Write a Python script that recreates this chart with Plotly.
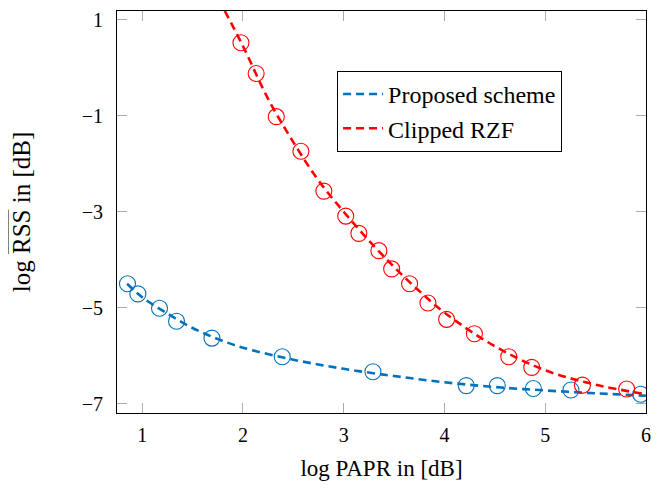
import plotly.graph_objects as go

# Marker data
prop_x = [0.854, 0.957, 1.172, 1.341, 1.692, 2.390, 3.290, 4.216, 4.524, 4.882, 5.255, 5.947]
prop_y = [-4.50, -4.71, -5.01, -5.28, -5.63, -6.02, -6.33, -6.62, -6.62, -6.68, -6.71, -6.80]

rzf_x = [1.980, 2.131, 2.331, 2.575, 2.803, 3.020, 3.150, 3.349, 3.476, 3.654, 3.836,
         4.021, 4.297, 4.638, 4.866, 5.369, 5.808]
rzf_y = [0.52, -0.12, -1.02, -1.74, -2.57, -3.09, -3.45, -3.81, -4.19, -4.50, -4.90,
         -5.24, -5.54, -6.02, -6.24, -6.61, -6.69]

# Fitted dashed curves
prop_fit_x = [0.85, 1.0, 1.25, 1.5, 1.75, 2.0, 2.5, 3.0, 3.5, 4.0, 4.5, 5.0, 5.5, 6.0]
prop_fit_y = [-4.50, -4.78, -5.12, -5.42, -5.65, -5.83, -6.08, -6.27, -6.42, -6.55, -6.65, -6.72, -6.78, -6.83]

rzf_fit_x = [1.82, 2.0, 2.25, 2.5, 2.75, 3.0, 3.25, 3.5, 3.75, 4.0, 4.5, 5.0, 5.5, 6.0]
rzf_fit_y = [1.18, 0.45, -0.65, -1.55, -2.35, -3.0, -3.6, -4.15, -4.65, -5.1, -5.8, -6.3, -6.6, -6.8]

x_ticks = [1, 2, 3, 4, 5, 6]
y_ticks = [1, -1, -3, -5, -7]
y_tick_text = ["1", "\u22121", "\u22123", "\u22125", "\u22127"]

BLUE = "#0072BD"
RED = "#FF0000"
FONT = "Liberation Serif"

fig = go.Figure()
fig.add_trace(go.Scatter(x=prop_fit_x, y=prop_fit_y, mode="lines", name="Proposed scheme",
                         line=dict(color=BLUE, width=2.6, dash="8px,5px", shape="spline")))
fig.add_trace(go.Scatter(x=rzf_fit_x, y=rzf_fit_y, mode="lines", name="Clipped RZF",
                         line=dict(color=RED, width=2.6, dash="8px,5px", shape="spline")))
fig.add_trace(go.Scatter(x=prop_x, y=prop_y, mode="markers", showlegend=False,
                         marker=dict(symbol="circle-open", size=16, color=BLUE, line=dict(width=1.1, color=BLUE))))
fig.add_trace(go.Scatter(x=rzf_x, y=rzf_y, mode="markers", showlegend=False,
                         marker=dict(symbol="circle-open", size=16, color=RED, line=dict(width=1.1, color=RED))))

axis_common = dict(showgrid=False, zeroline=False, showline=True, linecolor="black", linewidth=1,
                   mirror="ticks", ticks="inside", ticklen=10, tickcolor="#aaaaaa", tickwidth=1.2,
                   ticklabeloverflow="allow",
                   tickfont=dict(family=FONT, size=20, color="black"))

fig.update_xaxes(range=[0.75, 6.0], tickvals=x_ticks, ticktext=[str(t) for t in x_ticks],
                 ticklabelstandoff=4,
                 title=dict(text="log PAPR in [dB]", font=dict(family=FONT, size=23, color="black"), standoff=14),
                 **axis_common)
fig.update_yaxes(range=[-7.19, 1.18], tickvals=y_ticks, ticktext=y_tick_text,
                 ticklabelstandoff=9,
                 title=dict(text='log <span style="text-decoration:overline">RSS</span> in [dB]',
                            font=dict(family=FONT, size=25, color="black"), standoff=44),
                 **axis_common)

fig.update_layout(
    width=643, height=473,
    margin=dict(l=109, r=5, t=3, b=68, autoexpand=False),
    plot_bgcolor="white", paper_bgcolor="white",
    font=dict(family=FONT, size=20, color="black"),
    legend=dict(x=0.416, y=0.851, xanchor="left", yanchor="top",
                bgcolor="white", bordercolor="black", borderwidth=1,
                font=dict(family=FONT, size=24, color="black"),
                itemwidth=40, tracegroupgap=0, entrywidth=180, entrywidthmode="pixels"),
)

fig.write_html("out.html")
